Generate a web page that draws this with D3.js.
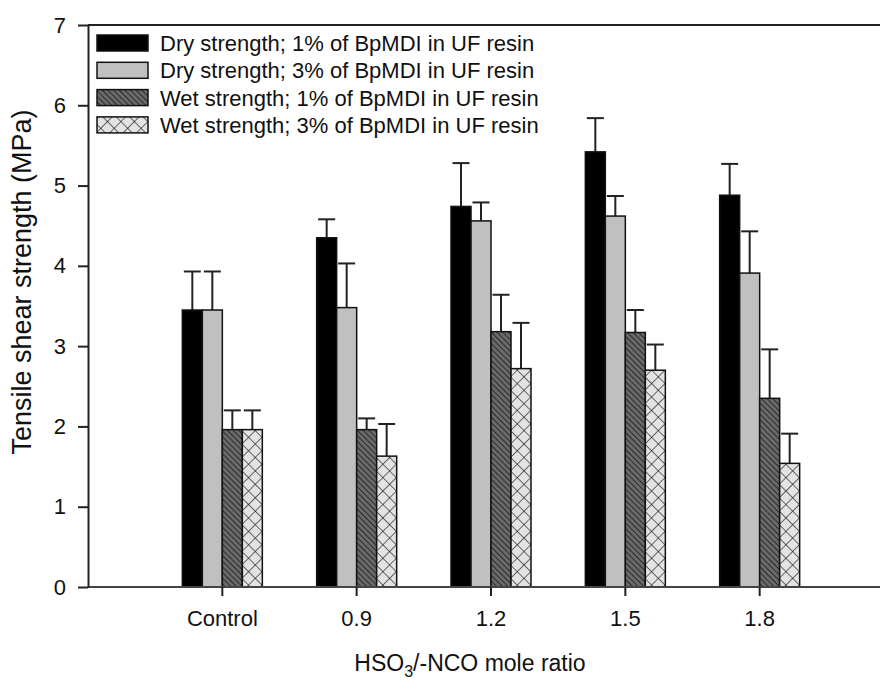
<!DOCTYPE html>
<html>
<head>
<meta charset="utf-8">
<script src="https://cdn.jsdelivr.net/npm/d3@7"></script>
<style>
  body { margin: 0; background: #fff; }
  text { font-family: "Liberation Sans", Arial, sans-serif; fill: #111; }
</style>
</head>
<body>
<div id="chart"></div>
<script>
// categories and series
const ratios = ["Control", "0.9", "1.2", "1.5", "1.8"];
const seriesNames = [
  "Dry strength; 1% of BpMDI in UF resin",
  "Dry strength; 3% of BpMDI in UF resin",
  "Wet strength; 1% of BpMDI in UF resin",
  "Wet strength; 3% of BpMDI in UF resin"
];
// bar heights (MPa)
const dry1 = [3.45, 4.35, 4.74, 5.42, 4.88];
const dry3 = [3.45, 3.48, 4.56, 4.62, 3.91];
const wet1 = [1.96, 1.96, 3.18, 3.17, 2.35];
const wet3 = [1.96, 1.63, 2.72, 2.70, 1.54];
// error bar tops (MPa)
const dry1Err = [3.93, 4.58, 5.28, 5.84, 5.27];
const dry3Err = [3.93, 4.03, 4.79, 4.87, 4.43];
const wet1Err = [2.20, 2.10, 3.64, 3.45, 2.96];
const wet3Err = [2.20, 2.03, 3.29, 3.02, 1.91];
const yTicks = [0, 1, 2, 3, 4, 5, 6, 7];

const values = [dry1, dry3, wet1, wet3];
const errs = [dry1Err, dry3Err, wet1Err, wet3Err];

const width = 880, height = 681;
const margin = { top: 25, left: 88, bottom: 94 };

const svg = d3.select("#chart").append("svg")
  .attr("width", width)
  .attr("height", height);

// patterns
const defs = svg.append("defs");
const hatch = defs.append("pattern")
  .attr("id", "hatch")
  .attr("patternUnits", "userSpaceOnUse")
  .attr("width", 4).attr("height", 4)
  .attr("patternTransform", "rotate(-45)");
hatch.append("rect").attr("width", 4).attr("height", 4).attr("fill", "#6a6a6a");
hatch.append("line").attr("x1", 0).attr("y1", 0).attr("x2", 0).attr("y2", 4)
  .attr("stroke", "#1a1a1a").attr("stroke-width", 1.6);

const cross = defs.append("pattern")
  .attr("id", "cross")
  .attr("patternUnits", "userSpaceOnUse")
  .attr("width", 9.5).attr("height", 9.5)
  .attr("patternTransform", "rotate(45)");
cross.append("rect").attr("width", 9.5).attr("height", 9.5).attr("fill", "#e3e3e3");
cross.append("line").attr("x1", 0).attr("y1", 0).attr("x2", 0).attr("y2", 9.5)
  .attr("stroke", "#111").attr("stroke-width", 1.2);
cross.append("line").attr("x1", 0).attr("y1", 0).attr("x2", 9.5).attr("y2", 0)
  .attr("stroke", "#111").attr("stroke-width", 1.2);

const fills = ["#000", "#c0c0c0", "url(#hatch)", "url(#cross)"];

// scales
const x = d3.scaleBand()
  .domain(ratios)
  .range([margin.left, 894])
  .paddingInner(0)
  .paddingOuter(0.5);

const xSub = d3.scaleBand()
  .domain(d3.range(4))
  .range([-40, 40]);

const y = d3.scaleLinear()
  .domain([0, 7])
  .range([height - margin.bottom, margin.top]);

// bars
const barData = [];
ratios.forEach((r, i) => {
  values.forEach((s, j) => {
    barData.push({ cat: r, k: j, v: s[i], e: errs[j][i] });
  });
});

// error bars first so bars cover the lower part
const eb = svg.append("g");
barData.forEach(d => {
  const cx = x(d.cat) + x.bandwidth() / 2 + xSub(d.k) + xSub.bandwidth() / 2;
  eb.append("line")
    .attr("x1", cx).attr("x2", cx)
    .attr("y1", y(d.v)).attr("y2", y(d.e))
    .attr("stroke", "#222").attr("stroke-width", 2);
  eb.append("line")
    .attr("x1", cx - 8.5).attr("x2", cx + 8.5)
    .attr("y1", y(d.e)).attr("y2", y(d.e))
    .attr("stroke", "#222").attr("stroke-width", 2);
});

svg.append("g").selectAll("rect")
  .data(barData)
  .enter()
  .append("rect")
  .attr("x", d => x(d.cat) + x.bandwidth() / 2 + xSub(d.k))
  .attr("y", d => y(d.v))
  .attr("width", xSub.bandwidth())
  .attr("height", d => y(0) - y(d.v))
  .attr("fill", d => fills[d.k])
  .attr("stroke", "#111")
  .attr("stroke-width", 1.5);

// frame top line
svg.append("line")
  .attr("x1", margin.left).attr("x2", width)
  .attr("y1", y(7)).attr("y2", y(7))
  .attr("stroke", "#222").attr("stroke-width", 2);

// x axis
const xAxis = svg.append("g")
  .attr("transform", `translate(0, ${y(0)})`)
  .call(d3.axisBottom(x).tickSize(9).tickSizeOuter(0).tickPadding(14));
xAxis.select(".domain").attr("stroke", "#444").attr("stroke-width", 2)
  .attr("d", `M${margin.left},0H${width}`);
xAxis.selectAll(".tick line").attr("stroke", "#222").attr("stroke-width", 2);
xAxis.selectAll("text").style("font-size", "22px").style("font-family", "Liberation Sans, Arial, sans-serif").attr("fill", "#111");

// y axis
const yAxis = svg.append("g")
  .attr("transform", `translate(${margin.left}, 0)`)
  .call(d3.axisLeft(y).tickValues(yTicks).tickFormat(d3.format("d")).tickSize(10).tickSizeOuter(0).tickPadding(12));
yAxis.select(".domain").attr("stroke", "#222").attr("stroke-width", 2);
yAxis.selectAll(".tick line").attr("stroke", "#222").attr("stroke-width", 2);
yAxis.selectAll("text").style("font-size", "22px").style("font-family", "Liberation Sans, Arial, sans-serif").attr("fill", "#111");

// axis titles
svg.append("text")
  .attr("transform", `translate(31, 282) rotate(-90)`)
  .style("text-anchor", "middle")
  .style("font-size", "27px")
  .text("Tensile shear strength (MPa)");

const xt = svg.append("text")
  .attr("x", 470)
  .attr("y", 671)
  .style("text-anchor", "middle")
  .style("font-size", "23px");
xt.append("tspan").text("HSO");
xt.append("tspan").attr("dy", 6).style("font-size", "16px").text("3");
xt.append("tspan").attr("dy", -6).text("/-NCO mole ratio");

// legend
const legend = svg.append("g");
seriesNames.forEach((name, i) => {
  const cy = 43 + i * 27.3;
  legend.append("rect")
    .attr("x", 97).attr("y", cy - 8)
    .attr("width", 51).attr("height", 16)
    .attr("fill", fills[i])
    .attr("stroke", "#111").attr("stroke-width", 1.5);
  legend.append("text")
    .attr("x", 160).attr("y", cy)
    .attr("dy", "0.36em")
    .style("font-size", "22px")
    .text(name);
});
</script>
</body>
</html>
